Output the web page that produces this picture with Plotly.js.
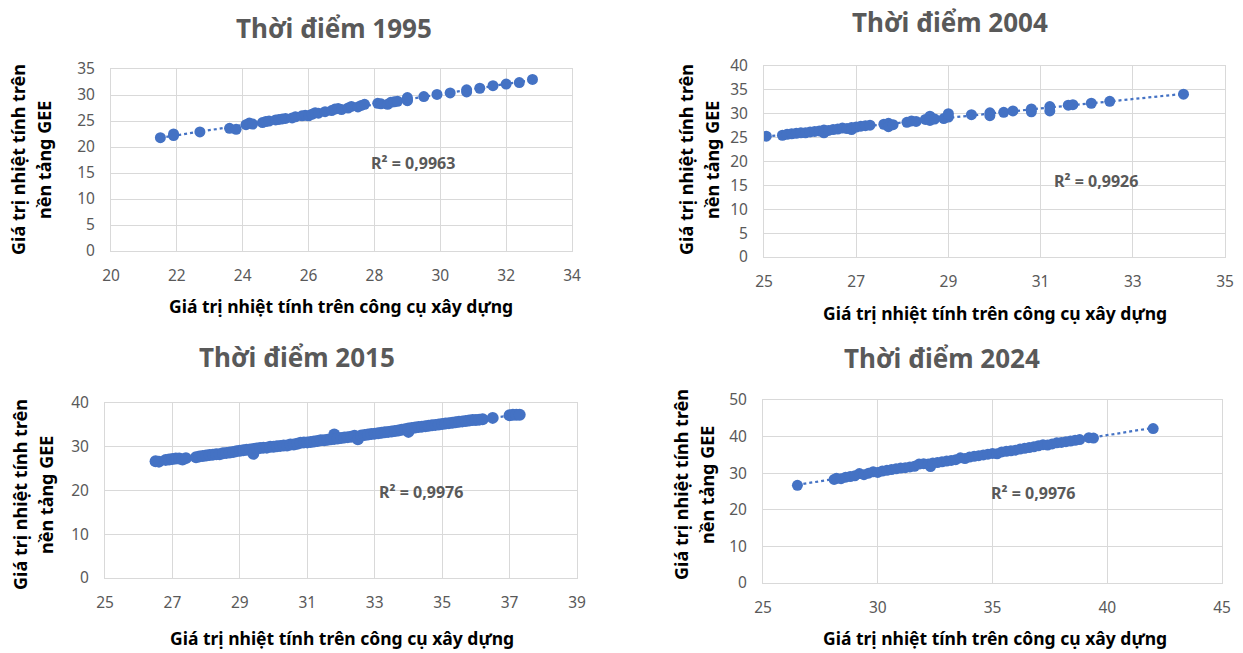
<!DOCTYPE html>
<html>
<head>
<meta charset="utf-8">
<script src="https://cdn.plot.ly/plotly-3.0.1.min.js"></script>
<style>html,body{margin:0;padding:0;background:#fff;}#chart{width:1243px;height:653px;}</style>
</head>
<body>
<div id="chart"></div>
<script>
// ---------- DATA ----------
const titles = ["Thời điểm 1995", "Thời điểm 2004", "Thời điểm 2015", "Thời điểm 2024"];
const r2Labels = ["R² = 0,9963", "R² = 0,9926", "R² = 0,9976", "R² = 0,9976"];
const xTitle = "Giá trị nhiệt tính trên công cụ xây dựng";
const yTitleLines = ["Giá trị nhiệt tính trên", "nền tảng GEE"];

const x1995 = [21.5,21.9,21.9,22.7,23.6,23.8,24.1,24.2,24.3,24.6,24.7,24.8,25.0,25.1,25.2,25.3,25.5,25.6,25.8,25.9,26.0,26.1,26.2,26.3,26.5,26.7,26.8,26.9,27.0,27.2,27.3,27.5,27.6,27.7,28.1,28.2,28.4,28.5,28.6,28.7,29.0,29.0,29.0,29.5,29.9,30.3,30.8,30.8,31.2,31.6,32.0,32.4,32.8];
const y1995 = [21.8,22.2,22.5,22.9,23.6,23.4,24.3,24.6,24.4,24.7,24.9,25.0,25.2,25.3,25.4,25.5,25.6,25.8,26.0,26.1,26.0,26.3,26.6,26.5,26.8,27.0,27.3,27.4,27.2,27.5,27.8,27.7,28.0,28.2,28.4,28.3,28.2,28.6,28.7,28.8,29.0,29.5,28.9,29.7,30.1,30.4,30.6,31.0,31.3,31.8,32.1,32.4,33.0];

const x2004 = [25.05,25.4,25.5,25.6,25.7,25.8,25.9,26.0,26.1,26.2,26.3,26.3,26.4,26.5,26.6,26.7,26.8,26.9,26.9,27.0,27.1,27.2,27.3,27.6,27.7,27.7,27.8,28.1,28.2,28.3,28.5,28.6,28.6,28.7,28.9,29.0,29.0,29.5,29.9,29.9,30.2,30.4,30.8,30.8,31.2,31.2,31.6,31.7,32.1,32.5,34.1];
const y2004 = [25.3,25.5,25.7,25.8,25.9,26.0,26.0,26.2,26.3,26.4,26.6,26.0,26.5,26.7,26.8,27.0,26.9,27.1,26.7,27.2,27.4,27.5,27.6,27.8,28.0,27.3,27.7,28.2,28.5,28.4,28.8,29.5,28.6,28.9,29.0,29.3,30.0,29.8,30.2,29.6,30.3,30.6,31.0,30.4,31.5,30.6,31.8,31.9,32.2,32.6,34.1];

const x2015 = [26.5,26.6,26.8,26.9,27.0,27.1,27.2,27.3,27.4,27.7,27.8,27.9,28.0,28.1,28.2,28.3,28.4,28.5,28.6,28.7,28.8,28.9,29.0,29.1,29.2,29.3,29.4,29.4,29.5,29.6,29.7,29.8,29.9,30.0,30.1,30.2,30.3,30.4,30.5,30.6,30.7,30.8,30.9,31.0,31.1,31.2,31.3,31.4,31.5,31.6,31.7,31.8,31.8,31.9,32.0,32.1,32.2,32.3,32.4,32.5,32.6,32.7,32.8,32.9,33.0,33.1,33.2,33.3,33.4,33.5,33.6,33.7,33.8,33.9,34.0,34.0,34.1,34.2,34.3,34.4,34.5,34.6,34.7,34.8,34.9,35.0,35.1,35.2,35.3,35.4,35.5,35.6,35.7,35.8,35.9,36.0,36.1,36.2,36.5,37.0,37.1,37.2,37.3];
const y2015 = [26.7,26.6,27.0,27.1,27.2,27.3,27.3,27.1,27.4,27.6,27.8,27.9,28.0,28.1,28.2,28.3,28.3,28.5,28.6,28.7,28.8,29.0,29.1,29.2,29.3,29.4,29.5,28.4,29.6,29.7,29.8,29.8,30.0,30.0,30.1,30.2,30.3,30.3,30.5,30.5,30.7,30.9,31.0,31.0,31.1,31.2,31.3,31.5,31.5,31.6,31.7,32.8,31.8,31.9,32.0,32.1,32.2,32.3,32.5,31.7,32.6,32.7,32.8,32.9,33.0,33.1,33.2,33.3,33.4,33.5,33.6,33.7,33.9,34.0,33.4,34.2,34.3,34.4,34.5,34.6,34.7,34.8,34.9,35.0,35.1,35.2,35.3,35.4,35.5,35.6,35.7,35.8,35.9,36.0,36.1,36.1,36.2,36.3,36.6,37.2,37.3,37.3,37.3];

const x2024 = [26.5,28.1,28.2,28.4,28.6,28.8,29.0,29.2,29.4,29.6,29.8,30.0,30.2,30.4,30.6,30.8,31.0,31.2,31.4,31.6,31.8,32.0,32.2,32.3,32.4,32.6,32.8,33.0,33.2,33.4,33.6,33.8,34.0,34.2,34.4,34.6,34.8,35.0,35.2,35.4,35.6,35.8,36.0,36.2,36.4,36.6,36.8,37.0,37.2,37.4,37.6,37.8,38.0,38.2,38.4,38.6,38.8,39.2,39.4,42.0];
const y2024 = [26.7,28.3,28.6,28.5,28.9,29.1,29.3,29.9,29.6,30.0,30.4,30.2,30.6,30.8,31.0,31.2,31.4,31.5,31.7,31.9,32.5,32.6,32.5,31.8,32.8,32.9,33.1,33.3,33.5,33.7,34.2,34.0,34.4,34.6,34.8,35.0,35.2,35.4,35.3,35.8,36.0,36.1,36.3,36.6,36.8,37.0,37.2,37.5,37.8,37.7,38.0,38.3,38.4,38.6,38.8,39.0,39.2,39.7,39.6,42.2];

const xTicks1 = [20,22,24,26,28,30,32,34];
const xTicks2 = [25,27,29,31,33,35];
const xTicks3 = [25,27,29,31,33,35,37,39];
const xTicks4 = [25,30,35,40,45];
const yTicks1 = [0,5,10,15,20,25,30,35];
const yTicks2 = [0,5,10,15,20,25,30,35,40];
const yTicks3 = [0,10,20,30,40];
const yTicks4 = [0,10,20,30,40,50];

// ---------- LAYOUT ----------
const W = 1243, H = 653;
const px = v => v / W;
const py = v => 1 - v / H;
const BLUE = '#4472C4';
const GRID = '#d9d9d9';
const TICK = '#595959';
const FONT = 'Noto Sans, Open Sans, sans-serif';

const panels = [
  {xs:x1995, ys:y1995, xt:xTicks1, yt:yTicks1, box:[111,572,69,251], title:[334,28], r2:[413,163], xtl:[341,306], ytl:[31,160], ms:11},
  {xs:x2004, ys:y2004, xt:xTicks2, yt:yTicks2, box:[764,1225,66,257], title:[950,22], r2:[1096,181], xtl:[995,313], ytl:[699,160], ms:11},
  {xs:x2015, ys:y2015, xt:xTicks3, yt:yTicks3, box:[105,577,403,578], title:[297,357], r2:[421,492], xtl:[342,638], ytl:[33,495], ms:12},
  {xs:x2024, ys:y2024, xt:xTicks4, yt:yTicks4, box:[763,1222,400,583], title:[942,358], r2:[1033,493], xtl:[995,638], ytl:[694,485], ms:11}
];

function linfit(xs, ys) {
  const n = xs.length;
  let sx=0, sy=0, sxx=0, sxy=0;
  for (let i=0;i<n;i++){ sx+=xs[i]; sy+=ys[i]; sxx+=xs[i]*xs[i]; sxy+=xs[i]*ys[i]; }
  const b = (n*sxy - sx*sy)/(n*sxx - sx*sx);
  const a = (sy - b*sx)/n;
  return [a,b];
}

const traces = [];
const layout = {
  width: W, height: H,
  margin: {l:0, r:0, t:0, b:0},
  paper_bgcolor: '#fff', plot_bgcolor: '#fff',
  showlegend: false,
  font: {family: FONT, color: TICK},
  annotations: []
};

panels.forEach((p, i) => {
  const k = i === 0 ? '' : String(i+1);
  const xa = 'x' + k, ya = 'y' + k;
  const [a,b] = linfit(p.xs, p.ys);
  const xmin = Math.min(...p.xs), xmax = Math.max(...p.xs);
  traces.push({
    x: [xmin, xmax], y: [a + b*xmin, a + b*xmax],
    xaxis: xa, yaxis: ya, mode: 'lines', type: 'scatter',
    line: {color: BLUE, width: 2.25, dash: 'dot'}, hoverinfo: 'skip'
  });
  traces.push({
    x: p.xs, y: p.ys, xaxis: xa, yaxis: ya, mode: 'markers', type: 'scatter',
    marker: {color: BLUE, size: p.ms}
  });
  const [l, r, t, bt] = p.box;
  const axCommon = {
    showgrid: true, gridcolor: GRID, gridwidth: 1,
    showline: true, linecolor: GRID, linewidth: 1, mirror: true,
    zeroline: false, ticks: '', fixedrange: true,
    tickfont: {family: FONT, size: 15.5, color: TICK}
  };
  layout['xaxis' + k] = Object.assign({}, axCommon, {
    domain: [px(l), px(r)], anchor: ya,
    range: [p.xt[0], p.xt[p.xt.length-1]],
    tickmode: 'array', tickvals: p.xt, ticktext: p.xt.map(String),
    ticklabelstandoff: 10
  });
  layout['yaxis' + k] = Object.assign({}, axCommon, {
    domain: [py(bt), py(t)], anchor: xa,
    range: [p.yt[0], p.yt[p.yt.length-1]],
    tickmode: 'array', tickvals: p.yt, ticktext: p.yt.map(String),
    ticklabelstandoff: 12
  });
  layout.annotations.push(
    {xref:'paper', yref:'paper', x:px(p.title[0]), y:py(p.title[1]), xanchor:'center', yanchor:'middle',
     text:'<b>' + titles[i] + '</b>', showarrow:false, font:{family:FONT, size:26, color:TICK}},
    {xref:'paper', yref:'paper', x:px(p.r2[0]), y:py(p.r2[1]), xanchor:'center', yanchor:'middle',
     text:'<b>' + r2Labels[i] + '</b>', showarrow:false, font:{family:FONT, size:16, color:TICK}},
    {xref:'paper', yref:'paper', x:px(p.xtl[0]), y:py(p.xtl[1]), xanchor:'center', yanchor:'middle',
     text:'<b>' + xTitle + '</b>', showarrow:false, font:{family:FONT, size:17.5, color:'#000'}}
  );
  yTitleLines.forEach((line, j) => {
    layout.annotations.push({
      xref:'paper', yref:'paper', x:px(p.ytl[0] + (j === 0 ? -13 : 13)), y:py(p.ytl[1]),
      xanchor:'center', yanchor:'middle', text:'<b>' + line + '</b>', showarrow:false,
      textangle:-90, font:{family:FONT, size:18, color:'#000'}
    });
  });
});

Plotly.newPlot('chart', traces, layout, {displayModeBar: false, staticPlot: true});
</script>
</body>
</html>
